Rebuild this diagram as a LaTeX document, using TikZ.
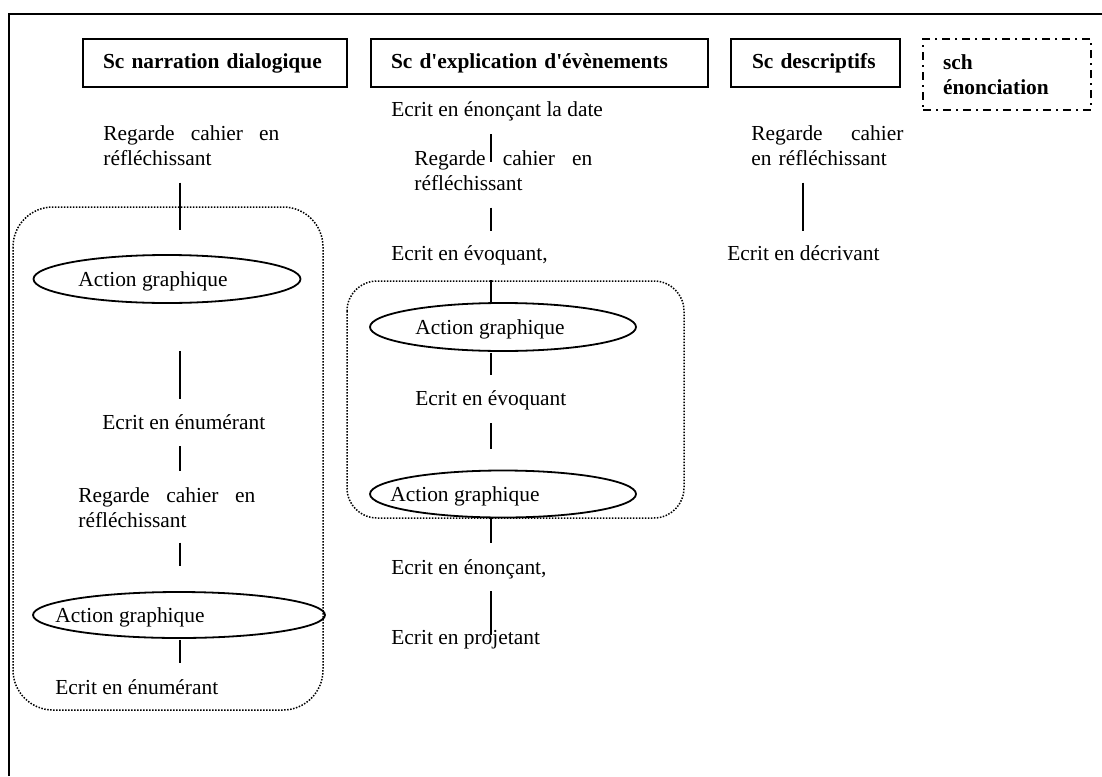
\documentclass[tikz,border=0pt]{standalone}
\usepackage{fontspec}
\setmainfont{Liberation Serif}[Ligatures=TeXOff]
\usetikzlibrary{shapes.geometric}

\begin{document}
\begin{tikzpicture}[x=0.5pt,y=-0.5pt,
    font=\fontsize{10.7}{12.5}\selectfont,
    txt/.style={anchor=base west,inner sep=0pt},
    oneline/.style={text height=7.5pt,text depth=2pt},
    headbox/.style={draw,line width=0.8pt,font=\fontsize{10.7}{12.5}\selectfont\bfseries,
      align=left,inner xsep=10pt,inner ysep=0pt,minimum height=24pt},
    act/.style={ellipse,draw,line width=0.9pt,inner sep=0pt},
    group/.style={draw,line width=0.75pt,dash pattern=on 0.75pt off 0.75pt},
    link/.style 2 args={line width=0.8pt,shorten <=#1,shorten >=#2}]

    \useasboundingbox (0,0) rectangle (1102,776);
    \draw[line width=1pt] (9,776) -- (9,14) -- (1102,14);

    \node[headbox,minimum width=132pt,text width=112pt] (h1) at (215,63) {Sc narration dialogique};
    \node[headbox,minimum width=168.5pt,text width=148.5pt] (h2) at (539.5,63) {Sc d'explication d'évènements};
    \node[headbox,minimum width=84.5pt,text width=63.5pt] (h3) at (815.5,63) {Sc descriptifs};
    \node[headbox,dash pattern=on 4pt off 2.5pt on 1pt off 2.5pt,minimum width=84pt,
      minimum height=35.5pt,text width=64pt] (h4) at (1007,74.5) {sch\\énonciation};

    \draw[group,rounded corners=20pt] (13,207) rectangle (323,710);
    \draw[group,rounded corners=15pt] (347,281) rectangle (684,518);

    \node[txt,text width=88pt,align=left] (t1) at (103,140) {Regarde\hfill cahier\hfill en\\réfléchissant};
    \node[act,minimum width=133.5pt,minimum height=24pt] (e1) at (167,279) {};
    \node[txt,oneline] (a1) at (78,286) {Action graphique};
    \node[txt,oneline] (t2) at (102,429) {Ecrit en énumérant};
    \node[txt,text width=88.5pt,align=left] (t3) at (78,502) {Regarde\hfill cahier\hfill en\\réfléchissant};
    \node[act,minimum width=146pt,minimum height=23pt] (e2) at (179,615) {};
    \node[txt,oneline] (a2) at (55,622) {Action graphique};
    \node[txt,oneline] (t4) at (55,694) {Ecrit en énumérant};

    \node[txt,oneline] (m1) at (391,116) {Ecrit en énonçant la date};
    \node[txt,text width=89pt,align=left] (m2) at (414,165) {Regarde\hfill cahier\hfill en\\réfléchissant};
    \node[txt,oneline] (m3) at (391,260) {Ecrit en évoquant,};
    \node[act,minimum width=133pt,minimum height=24pt] (ea) at (503,327) {};
    \node[txt,oneline] (b1) at (415,334) {Action graphique};
    \node[txt,oneline] (m4) at (415,405) {Ecrit en évoquant};
    \node[act,minimum width=133pt,minimum height=23.5pt] (eb) at (503,494) {};
    \node[txt,oneline] (b2) at (390,501) {Action graphique};
    \node[txt,oneline] (m5) at (391,574) {Ecrit en énonçant,};
    \node[txt,oneline] (m6) at (391,644) {Ecrit en projetant};

    \node[txt,text width=76pt,align=left] (r1) at (751,140) {Regarde\hfill cahier\\en réfléchissant};
    \node[txt,oneline] (r2) at (727,260) {Ecrit en décrivant};

    \coordinate (cL) at (180,0);
    \coordinate (cM) at (491,0);
    \coordinate (cR) at (803,0);

    \draw[link={8.5pt}{12pt}] (cL |- t1.south) -- (cL |- e1.north);
    \draw[link={23.5pt}{7.5pt}] (cL |- e1.south) -- (cL |- t2.north);
    \draw[link={6.5pt}{7.7pt}] (cL |- t2.south) -- (cL |- t3.north);
    \draw[link={7.5pt}{12.5pt}] (cL |- t3.south) -- (cL |- e2.north);
    \draw[link={0.5pt}{8pt}] (cL |- e2.south) -- (cL |- t4.north);

    \draw[link={7pt}{-6.3pt}] (cM |- m1.south) -- (cM |- m2.north);
    \draw[link={8.5pt}{7pt}] (cM |- m2.south) -- (cM |- m3.north);
    \draw[link={8pt}{0pt}] (cM |- m3.south) -- (cM |- ea.north);
    \draw[link={0.5pt}{7.5pt}] (cM |- ea.south) -- (cM |- m4.north);
    \draw[link={7pt}{10.25pt}] (cM |- m4.south) -- (cM |- eb.north);
    \draw[link={0pt}{8pt}] (cM |- eb.south) -- (cM |- m5.north);
    \draw[link={6.5pt}{-3pt}] (cM |- m5.south) -- (cM |- m6.north);

    \draw[link={8.5pt}{7pt}] (cR |- r1.south) -- (cR |- r2.north);

\end{tikzpicture}
\end{document}
